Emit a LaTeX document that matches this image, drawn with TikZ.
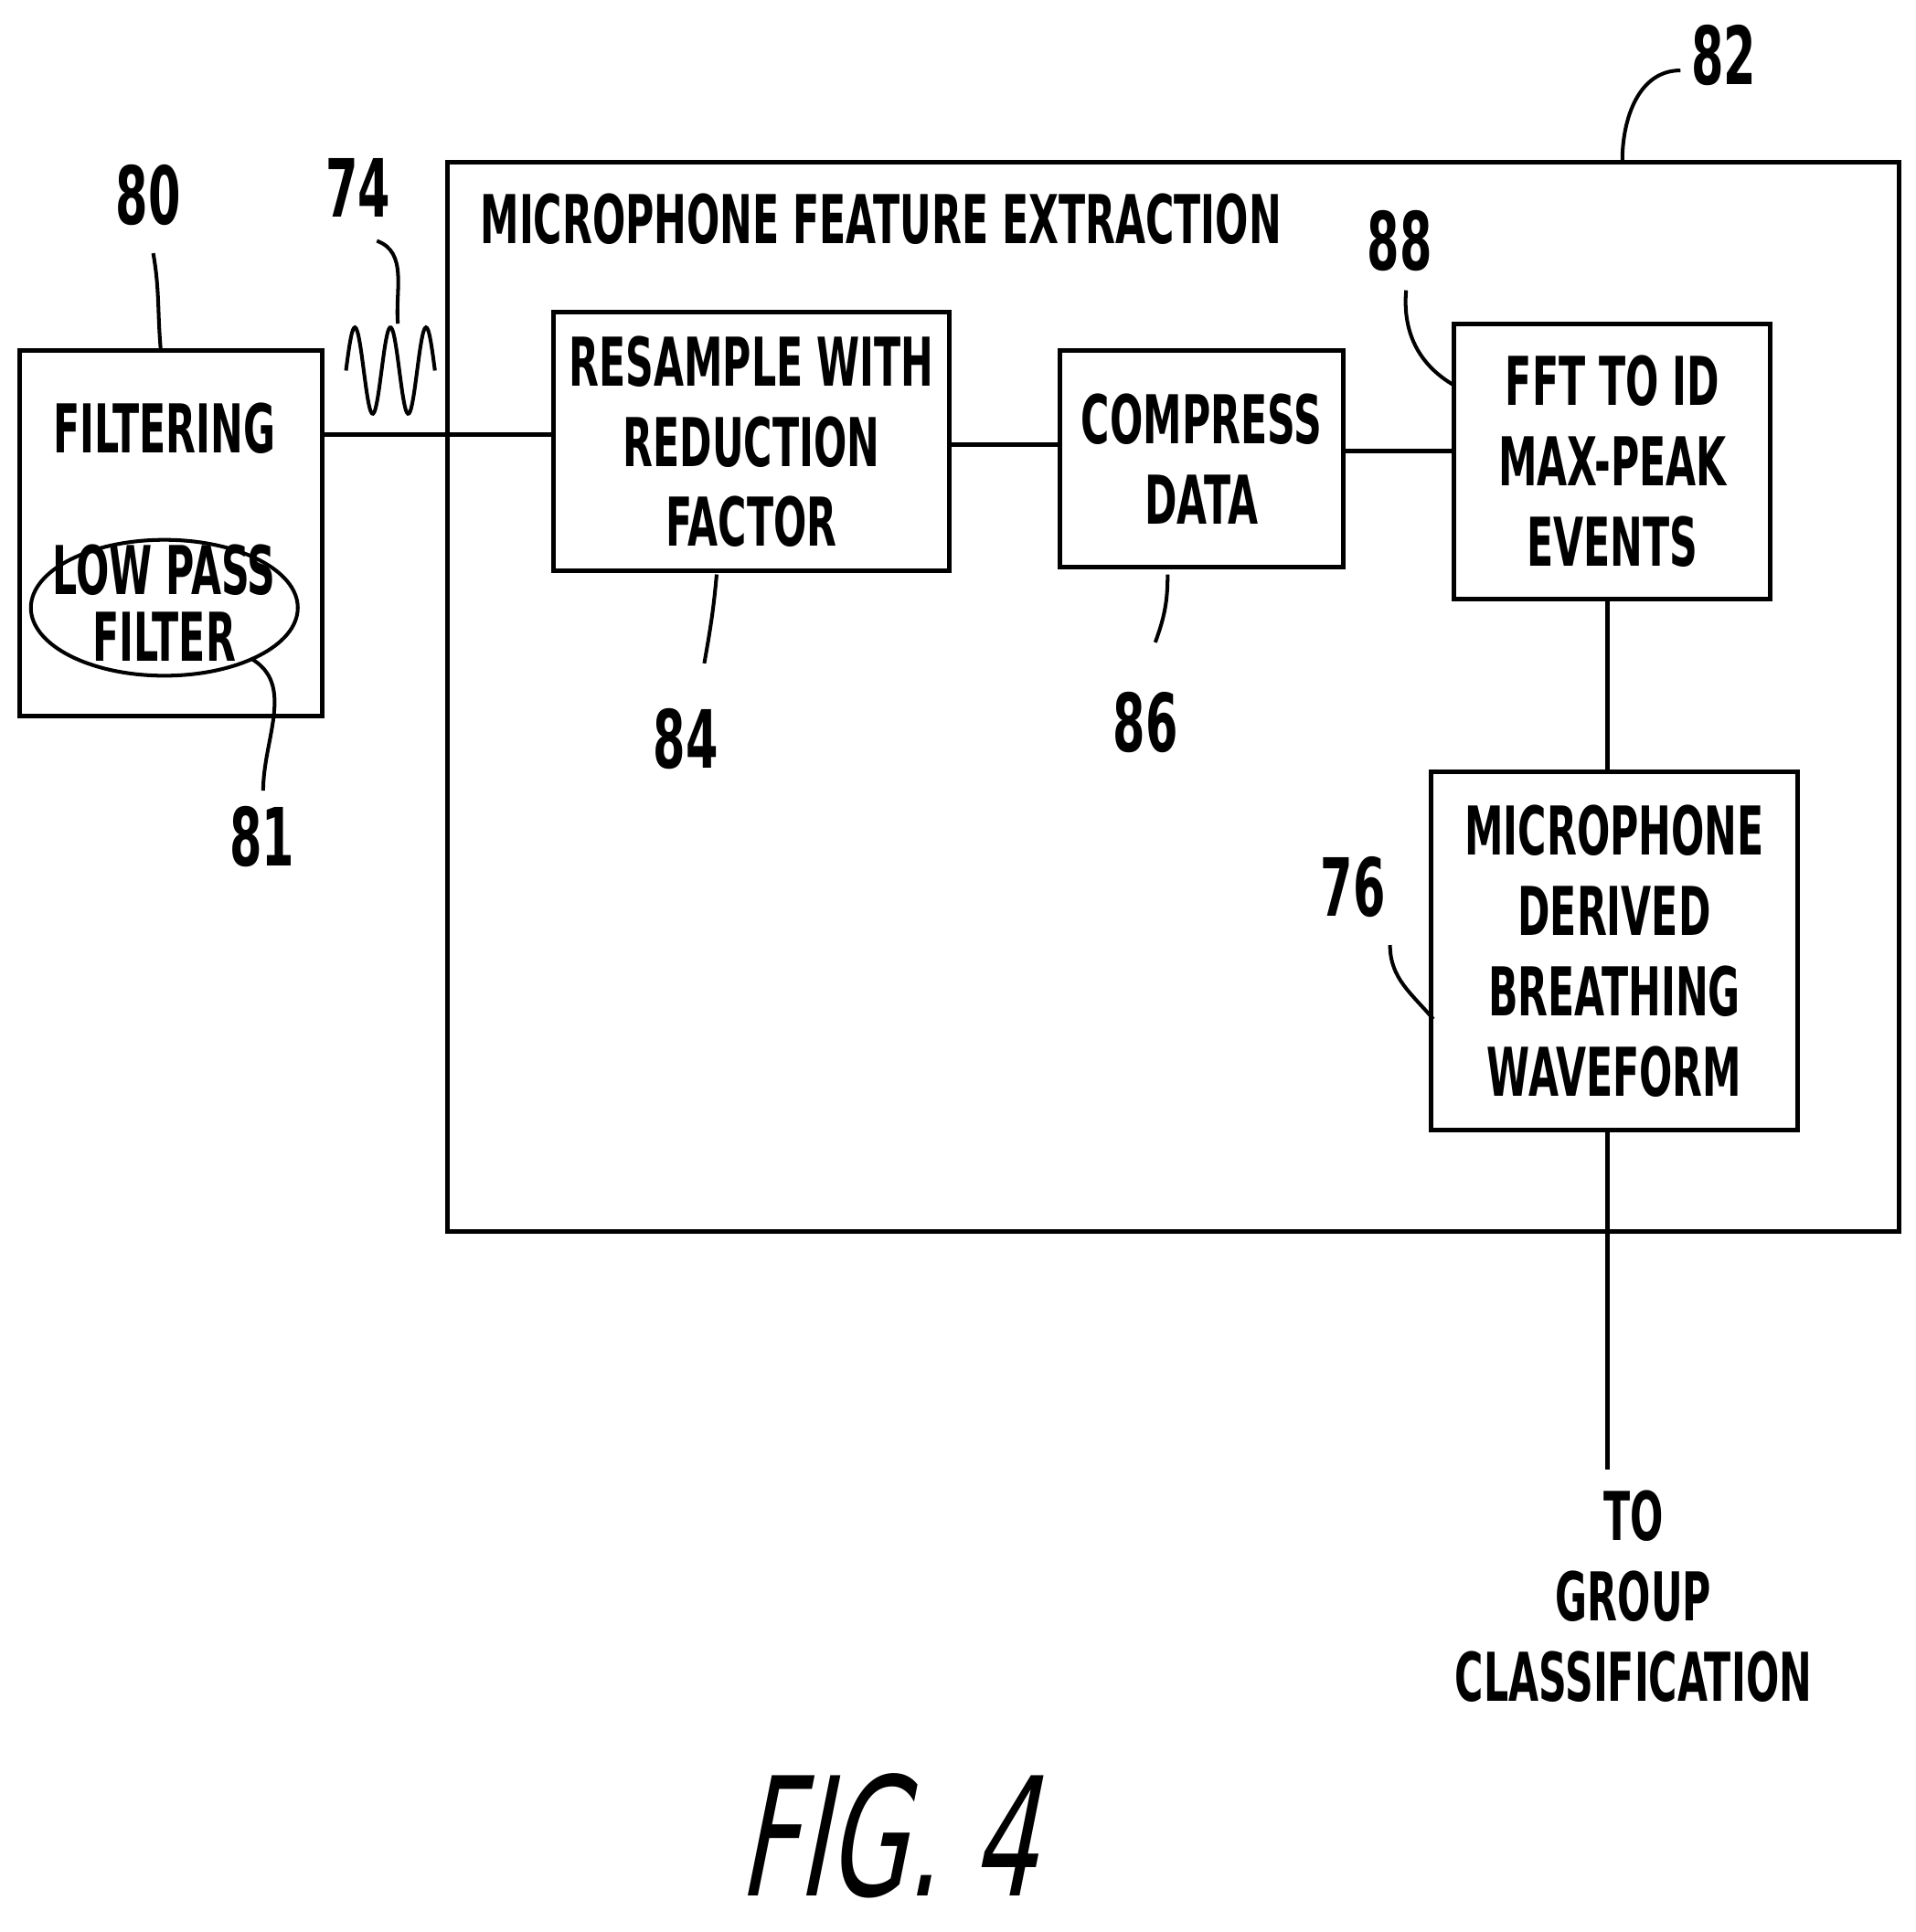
\documentclass[tikz,border=0pt]{standalone}
\usepackage{fontspec}
\setmainfont{DejaVu Sans}[FakeStretch=0.58,BoldFeatures={FakeStretch=0.58}]
\newfontfamily\figfont{DejaVu Sans}[FakeStretch=0.62,FakeSlant=0.2]
\begin{document}
\begin{tikzpicture}[x=0.02cm,y=-0.02cm,line width=2.1pt,
  box/.style={draw,line width=2.1pt,inner sep=0pt},
  txt/.style={font=\fontsize{31}{37}\selectfont\bfseries,align=center},
  num/.style={font=\fontsize{37}{42}\selectfont\bfseries},
  lead/.style={line width=1.7pt}]
\useasboundingbox (0,0) rectangle (1550,1564);
\draw[box] (362,131) rectangle (1537,997);
\node[txt] at (713,177) {MICROPHONE FEATURE EXTRACTION};
\node[box,minimum width=245*0.02cm,minimum height=296*0.02cm] (filt) at (138.5,432) {};
\node[txt] at (133,347) {FILTERING};
\draw[line width=1.7pt] (133,492) ellipse [x radius=108, y radius=55];
\node[txt] (lpf) at (133,488) {LOW PASS\\[-6pt]FILTER};
\node[box,minimum width=320*0.02cm,minimum height=209*0.02cm,txt] (res) at (608,357.5) {RESAMPLE WITH\\REDUCTION\\FACTOR};
\node[box,minimum width=229*0.02cm,minimum height=175*0.02cm,txt] (comp) at (972.5,371.5) {COMPRESS\\DATA};
\node[box,minimum width=256*0.02cm,minimum height=223*0.02cm,txt] (fft) at (1305,373.5) {FFT TO ID\\MAX-PEAK\\EVENTS};
\node[box,minimum width=297*0.02cm,minimum height=290*0.02cm,txt] (mic) at (1306.5,770) {MICROPHONE\\DERIVED\\BREATHING\\WAVEFORM};
\coordinate (end) at (1301,1190);
\node[txt] (to) at (1322,1292) {TO\\GROUP\\CLASSIFICATION};
\draw (filt.east |- 0,352) -- (res.west |- 0,352);
\draw (res.east |- 0,360) -- (comp.west |- 0,360);
\draw (comp.east |- 0,365) -- (fft.west |- 0,365);
\draw (fft.south -| 1301,0) -- (mic.north -| 1301,0);
\draw (mic.south -| 1301,0) -- (end);
% labels
\node[num] at (120,158) {80};
\draw[lead] (124,205) to[out=-80,in=95] (130,282);
\node[num] at (290,152) {74};
\draw[lead] (305,195) to[out=-20,in=95] (322,262);
\draw[lead,domain=0:72,samples=80,smooth] plot ({280+\x},{300-35*sin(\x/72*900)});
\node[num] at (1395,45) {82};
\draw[lead] (1360,57) to[out=180,in=90] (1313,130);
\node[num] at (1133,195) {88};
\draw[lead] (1138,235) to[out=-95,in=150] (1177,312);
\node[num] at (555,598) {84};
\draw[lead] (580,465) to[out=-95,in=80] (570,537);
\node[num] at (927,585) {86};
\draw[lead] (945,465) to[out=-90,in=70] (935,520);
\node[num] at (212,677) {81};
\draw[lead] (203,533) to[out=-30,in=90] (213,640);
\node[num] at (1095,718) {76};
\draw[lead] (1125,765) to[out=-90,in=130] (1160,825);
\node[font=\figfont\fontsize{76}{80}\selectfont] at (718,1486) {FIG. 4};
\end{tikzpicture}
\end{document}
